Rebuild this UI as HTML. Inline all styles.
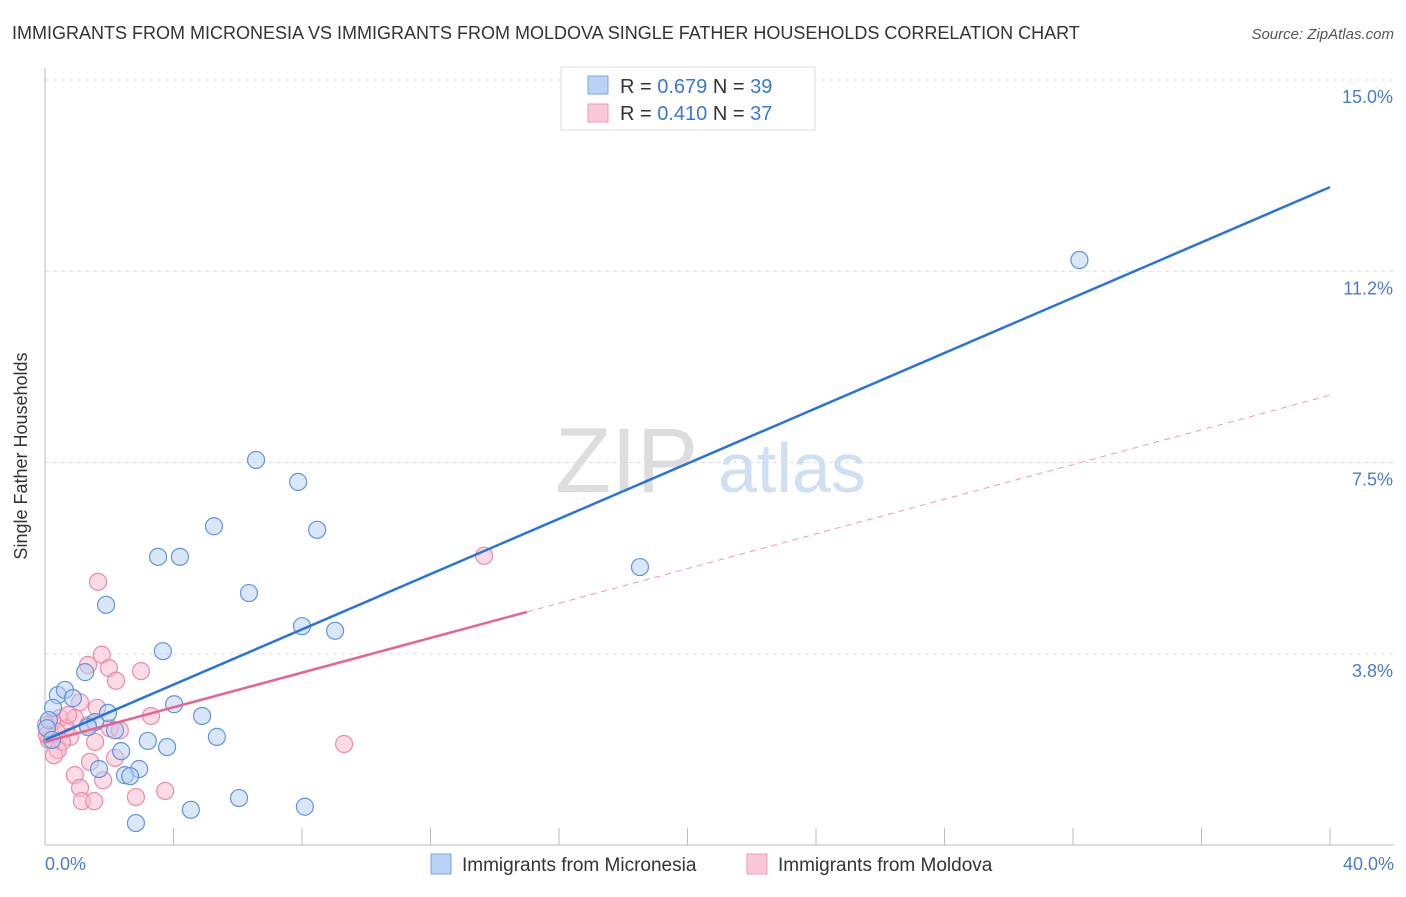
<!DOCTYPE html>
<html><head><meta charset="utf-8"><style>
body{margin:0;background:#fff;font-family:"Liberation Sans",sans-serif}
svg text{font-family:"Liberation Sans",sans-serif}
</style></head><body>
<svg width="1406" height="892" viewBox="0 0 1406 892">
<text x="12" y="39" font-size="18" fill="#333">IMMIGRANTS FROM MICRONESIA VS IMMIGRANTS FROM MOLDOVA SINGLE FATHER HOUSEHOLDS CORRELATION CHART</text>
<text x="1394" y="39" font-size="15" fill="#555" font-style="italic" text-anchor="end">Source: ZipAtlas.com</text>
<g id="grid"></g>
<text x="555" y="492" font-size="92" fill="#ddd" font-family="Liberation Serif">ZIP</text>
<text x="718" y="492" font-size="70" fill="#cfe0f5">atlas</text>
<g id="axes"></g>
<g id="points"></g>
<g id="lines"></g>
<text x="27" y="456" font-size="18" fill="#333" transform="rotate(-90 27 456)" text-anchor="middle">Single Father Households</text>
<text x="45" y="870" font-size="18" fill="#4a7bd0">0.0%</text>
<text x="1394" y="870" font-size="18" fill="#4a7bd0" text-anchor="end">40.0%</text>
<g>
<rect x="561" y="67" width="254" height="63" fill="#fff" stroke="#ddd"/>
<rect x="588" y="76" width="20" height="18" fill="#b8d3f5" stroke="#7aa6e0"/>
<rect x="588" y="104" width="20" height="18" fill="#fbc8d7" stroke="#f09ab5"/>
<text x="620" y="93" font-size="20" fill="#333">R = <tspan fill="#3a78d4">0.679</tspan>   N = <tspan fill="#3a78d4">39</tspan></text>
<text x="620" y="120" font-size="20" fill="#333">R = <tspan fill="#3a78d4">0.410</tspan>   N = <tspan fill="#3a78d4">37</tspan></text>
</g>
<g>
<rect x="431" y="854" width="20" height="20" fill="#b8d3f5" stroke="#7aa6e0"/>
<text x="462" y="871" font-size="19" fill="#333">Immigrants from Micronesia</text>
<rect x="747" y="854" width="20" height="20" fill="#fbc8d7" stroke="#f09ab5"/>
<text x="778" y="871" font-size="19" fill="#333">Immigrants from Moldova</text>
</g>
</svg>
<script>
const yTicks=[3.75,7.5,11.25,15];
const yTickLabels=["3.8%","7.5%","11.2%","15.0%"];
const xTicks=[0,4,8,12,16,20,24,28,32,36,40];
const blueX=[32.2,6.57,7.88,5.26,8.47,3.52,4.2,18.52,6.35,1.9,8.0,9.03,3.67,1.25,0.4,0.62,0.87,4.02,0.25,1.96,4.89,0.12,1.56,1.34,2.18,5.35,3.2,3.8,2.37,1.68,2.93,2.49,2.65,6.04,4.54,8.09,2.83,0.06,0.22];
const blueY=[11.47,7.55,7.12,6.25,6.18,5.65,5.65,5.45,4.94,4.71,4.29,4.2,3.8,3.39,2.94,3.04,2.88,2.76,2.69,2.59,2.53,2.45,2.41,2.31,2.25,2.12,2.04,1.92,1.84,1.49,1.49,1.37,1.35,0.92,0.69,0.75,0.43,2.29,2.06];
const pinkX=[13.67,1.65,1.77,1.34,1.99,2.99,2.21,1.09,1.62,3.3,0.47,0.93,0.22,1.34,0.65,2.02,0.37,0.78,0.12,0.53,1.56,9.31,0.4,0.28,2.18,1.4,0.93,1.81,1.09,3.74,2.83,1.15,1.53,0.03,0.72,2.33,0.06];
const pinkY=[5.67,5.16,3.73,3.53,3.47,3.41,3.22,2.8,2.69,2.53,2.49,2.49,2.41,2.35,2.29,2.29,2.22,2.12,2.06,2.02,2.02,1.98,1.86,1.76,1.71,1.63,1.37,1.27,1.12,1.06,0.94,0.86,0.86,2.35,2.55,2.25,2.16];
const blueLine=[2.06,12.9];
const pinkLine=[2.02,4.57,8.82];
const pinkSolidEnd=15;
const NS="http://www.w3.org/2000/svg";
const X=v=>45+v*(1285/40), Y=v=>845-v*51;
function mk(t,a,p){const e=document.createElementNS(NS,t);for(const k in a)e.setAttribute(k,a[k]);p.appendChild(e);return e;}
const grid=document.getElementById('grid'),axes=document.getElementById('axes'),pts=document.getElementById('points'),lines=document.getElementById('lines');
yTicks.forEach((t,i)=>{
 const l=mk('line',{x1:45,x2:1394,y1:Y(t),y2:Y(t),stroke:'#ddd','stroke-dasharray':'4,4'},grid);
 
 
 const tx=mk('text',{x:1393,y:Y(t)+23,'font-size':18,fill:'#4a7bd0','text-anchor':'end'},grid);
 tx.textContent=yTickLabels[i];
 
 
});
let a=mk('line',{x1:45,x2:45,y1:68,y2:845,stroke:'#bbb'},axes);


a=mk('line',{x1:45,x2:1394,y1:845,y2:845,stroke:'#bbb'},axes);


xTicks.forEach(t=>{
 const l=mk('line',{x1:X(t),x2:X(t),y1:828,y2:845,stroke:'#bbb'},axes);
 
 
});
function dots(xs,ys,fill,stroke,name){xs.forEach((x,i)=>{
 const c=mk('circle',{cx:X(x),cy:Y(ys[i]),r:8.5,fill:fill,'fill-opacity':0.5,stroke:stroke,'stroke-width':1.2},pts);
 
 
});}
dots(pinkX,pinkY,'#f9b8cb','#ec8aa8','moldova-point');
dots(blueX,blueY,'#b3cff2','#5f95dc','micronesia-point');
let ln=mk('line',{x1:X(0),y1:Y(blueLine[0]),x2:X(40),y2:Y(blueLine[1]),stroke:'#2a74d8','stroke-width':2.5},lines);


ln=mk('line',{x1:X(0),y1:Y(pinkLine[0]),x2:X(pinkSolidEnd),y2:Y(pinkLine[1]),stroke:'#e8638e','stroke-width':2.5},lines);


ln=mk('line',{x1:X(pinkSolidEnd),y1:Y(pinkLine[1]),x2:X(40),y2:Y(pinkLine[2]),stroke:'#eb9ab5','stroke-width':1,'stroke-dasharray':'6,5'},lines);


</script>
</body></html>
